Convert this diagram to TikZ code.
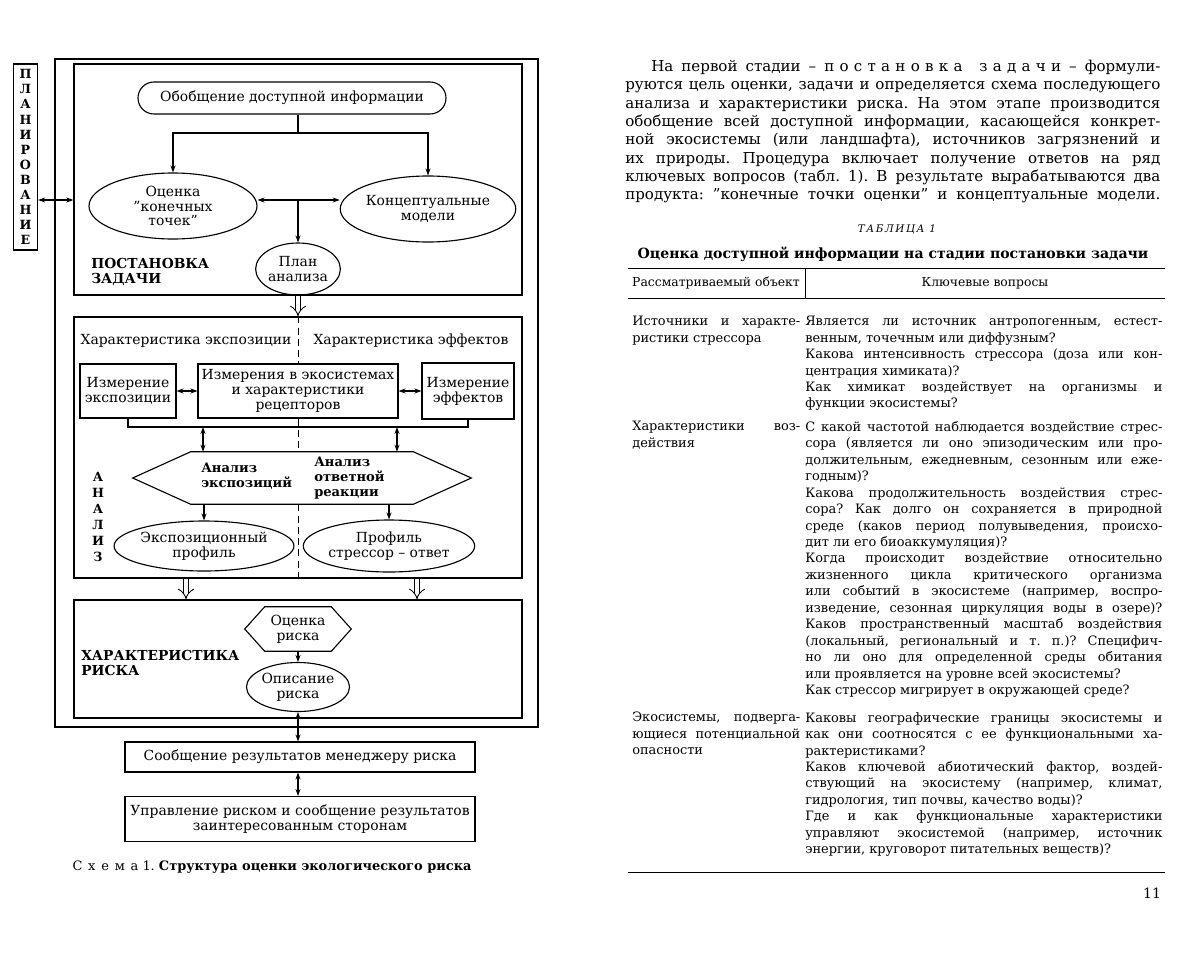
\documentclass[tikz,border=0pt]{standalone}
\usepackage{fontspec}
\setmainfont{DejaVu Serif}
\usetikzlibrary{arrows.meta,positioning,shapes.geometric,shapes.misc}
\frenchspacing

\def\pxl{0.025cm}
\newcommand\diafont{\fontsize{9.9}{10.6}\selectfont}
\newcommand\parafont{\fontsize{10.7}{13}\selectfont}
\newcommand\tabfont{\fontsize{9.2}{11.7}\selectfont}
\newcommand\headfont{\fontsize{8.8}{10}\selectfont}
\newlength\pw \setlength\pw{13.375cm}
\newlength\lw \setlength\lw{4.2cm}
\newlength\rw \setlength\rw{8.925cm}
\newcommand\jp[1]{\makebox[\pw][s]{#1}}
\newcommand\jl[1]{\makebox[\lw][s]{#1}}
\newcommand\jr[1]{\makebox[\rw][s]{#1}}
\newcommand\spaced[2][35]{{\addfontfeatures{LetterSpace=#1}#2}}

\tikzset{
  sz/.style 2 args={minimum width=#1*\pxl, minimum height=#2*\pxl},
  zone/.style={draw, line width=0.9pt, inner sep=0pt},
  bx/.style={draw, line width=0.8pt, font=\diafont, align=center, inner sep=1pt},
  ov/.style={ellipse, draw, line width=0.8pt, font=\diafont, align=center, inner sep=0pt},
  pill/.style={rounded rectangle, draw, line width=0.8pt, font=\diafont, inner sep=0pt},
  txt/.style={font=\diafont, inner sep=0pt, align=center},
  lbl/.style={font=\fontsize{9.8}{10.8}\selectfont\bfseries, align=left, anchor=west, inner sep=0pt},
  hlbl/.style={font=\fontsize{9.3}{10.4}\selectfont\bfseries, align=left, anchor=west, inner sep=0pt},
  vlbl/.style={font=\fontsize{9}{11.4}\selectfont\bfseries, align=center, inner sep=0pt},
  ln/.style={line width=0.8pt},
  ar/.style={line width=0.8pt, -{Stealth[length=5pt,width=3.6pt]}},
  dar/.style={line width=0.8pt, {Stealth[length=5pt,width=3.6pt]}-{Stealth[length=5pt,width=3.6pt]}},
  hol/.style={double, double distance=3.5pt, line width=0.6pt, -{Implies}},
  dl/.style={line width=0.7pt, dash pattern=on 5pt off 3pt},
  rl/.style={line width=0.6pt},
  para/.style={font=\parafont, align=left, anchor=north west, inner sep=0pt},
  cell/.style={font=\tabfont, align=left, anchor=north west, inner sep=0pt},
}

\begin{document}
\begin{tikzpicture}[x=0.025cm, y=-0.025cm]
\useasboundingbox (0,0) rectangle (1200,960);

% ---- left: scheme
\draw[zone] (55,59) rectangle (538,727);
\node[zone, sz={24}{186}, font=\fontsize{9}{10.7}\selectfont\bfseries, align=center] (plan) at (25.5,157)
  {П\\Л\\А\\Н\\И\\Р\\О\\В\\А\\Н\\И\\Е};

\node[zone, sz={448}{231}] (post) at (298,179.5) {};
\node[zone, sz={448}{261}] (ana) at (298,447.5) {};
\node[zone, sz={448}{118}] (risk) at (298,659) {};

% problem formulation
\node[pill, sz={308}{32}] (obob) at (292,98) {Обобщение доступной информации};
\node[ov, sz={168}{66}] (kt) at (173,206) {Оценка\\"конечных\\точек"};
\node[ov, sz={170}{66}] (cm) at (428,209) {Концептуальные\\модели};
\node[ov, sz={74}{52}] (pa) at (298,269) {План\\анализа};
\node[lbl] (postl) at (91,272) {ПОСТАНОВКА\\ЗАДАЧИ};
\coordinate (split) at (298,133);
\coordinate (mid) at (0,200);
\draw[ln] (obob.south -| split) -- (split);
\draw[ar] (split) -| (kt);
\draw[ar] (split) -| (cm);
\draw[dar] (kt.east |- mid) -- (cm.west |- mid);
\draw[ar] (mid -| pa) -- (pa);
\draw[dar] (plan.east |- mid) -- (post.west |- mid);
\draw[hol] (post.south) -- (ana.north);

% analysis
\node[txt] (hexp) at (186,341) {Характеристика экспозиции};
\node[txt] (heff) at (411,341) {Характеристика эффектов};
\node[bx, sz={96}{54}] (me) at (128,391) {Измерение\\экспозиции};
\node[bx, sz={200}{54}] (cen) at (298,391) {Измерения в экосистемах\\и характеристики\\рецепторов};
\node[bx, sz={92}{56}] (mf) at (468,391) {Измерение\\эффектов};
\draw[dar] (me) -- (cen);
\draw[dar] (cen) -- (mf);
\coordinate (brk) at (0,427);
\draw[ln] (me.south) |- (brk -| mf.south) -- (mf.south);
\node[sz={338}{52}, inner sep=0pt] (hex) at (302,478) {};
\draw[ln] (hex.west) -- ([xshift=58*\pxl]hex.north west) -- ([xshift=-58*\pxl]hex.north east)
  -- (hex.east) -- ([xshift=-58*\pxl]hex.south east) -- ([xshift=58*\pxl]hex.south west) -- cycle;
\coordinate (la) at (203,0);
\coordinate (ra) at (397,0);
\draw[dar] (brk -| la) -- (hex.north -| la);
\draw[dar] (brk -| ra) -- (hex.north -| ra);
\node[hlbl] (ae) at (201,476) {Анализ\\экспозиций};
\node[hlbl] (ao) at (314,478) {Анализ\\ответной\\реакции};
\node[ov, sz={146}{50}] (ep) at (204,546) {Экспозиционный\\профиль};
\node[ov, sz={146}{52}] (pr) at (389,546) {Профиль\\стрессор -- ответ};
\draw[ar] (hex.south -| ep) -- (ep);
\draw[ar] (hex.south -| pr) -- (pr);
\node[vlbl] (anl) at (98,517) {А\\Н\\А\\Л\\И\\З};
\draw[dl] (ana.north) -- (cen.north);
\draw[dl] (cen.south) -- (hex.north -| cen);
\draw[dl] (hex.south -| cen) -- (ana.south);
\coordinate (h1) at (186,0);
\coordinate (h2) at (417,0);
\draw[hol] (ana.south -| h1) -- (risk.north -| h1);
\draw[hol] (ana.south -| h2) -- (risk.north -| h2);

% risk characterisation
\node[txt, sz={106}{44}] (or) at (298,629) {Оценка\\риска};
\draw[ln] (or.west) -- ([xshift=20*\pxl]or.north west) -- ([xshift=-20*\pxl]or.north east)
  -- (or.east) -- ([xshift=-20*\pxl]or.south east) -- ([xshift=20*\pxl]or.south west) -- cycle;
\node[ov, sz={102}{49}] (opr) at (298,687) {Описание\\риска};
\draw[ar] (or.south) -- (opr);
\node[lbl] (rl) at (81,663) {ХАРАКТЕРИСТИКА\\РИСКА};

\node[bx, sz={350}{30}] (soob) at (300,757) {Сообщение результатов менеджеру риска};
\node[bx, sz={350}{45}] (upr) at (300,819) {Управление риском и сообщение результатов\\заинтересованным сторонам};
\draw[dar] (opr.south) -- (soob.north -| opr);
\draw[dar] (soob.south -| opr) -- (upr.north -| opr);
\node[font=\fontsize{9.2}{11}\selectfont, inner sep=0pt] (cap) at (272,867)
  {\spaced[45]{Схема} 1. \textbf{Структура оценки экологического риска}};

% ---- right: text and table
\node[para] (txt) at (625,60) {%
\jp{\hspace*{0.65cm}На первой стадии -- \spaced{постановка задачи} -- формули-}\\
\jp{руются цель оценки, задачи и определяется схема последующего}\\
\jp{анализа и характеристики риска. На этом этапе производится}\\
\jp{обобщение всей доступной информации, касающейся конкрет-}\\
\jp{ной экосистемы (или ландшафта), источников загрязнений и}\\
\jp{их природы. Процедура включает получение ответов на ряд}\\
\jp{ключевых вопросов (табл. 1). В результате вырабатываются два}\\
\jp{продукта: "конечные точки оценки" и концептуальные модели.}};

\node[font=\fontsize{7.4}{9}\selectfont\itshape, inner sep=0pt] (tno) at (897,229) {\spaced[15]{ТАБЛИЦА 1}};
\node[font=\fontsize{10}{11}\selectfont\bfseries, inner sep=0pt] (ttl) at (893,254)
  {Оценка доступной информации на стадии постановки задачи};

\coordinate (tl) at (628,268);
\coordinate (tr) at (1165,268);
\coordinate (hb) at (0,298);
\coordinate (sep) at (805,0);
\coordinate (bt) at (0,872);
\draw[rl] (tl) -- (tr);
\draw[rl] (tl |- hb) -- (tr |- hb);
\draw[rl] (sep |- tl) -- (sep |- hb);
\draw[rl] (tl |- bt) -- (tr |- bt);
\node[font=\headfont, inner sep=0pt] (hobj) at (716,283) {Рассматриваемый объект};
\node[font=\headfont, inner sep=0pt] (hq) at (985,283) {Ключевые вопросы};

\node[cell] (r1l) at (632,316) {\jl{Источники и характе-}\\ристики стрессора};
\node[cell] (r1r) at (805,316) {%
\jr{Является ли источник антропогенным, естест-}\\
венным, точечным или диффузным?\\
\jr{Какова интенсивность стрессора (доза или кон-}\\
центрация химиката)?\\
\jr{Как химикат воздействует на организмы и}\\
функции экосистемы?};

\node[cell] (r2l) at (632,421) {\jl{Характеристики воз-}\\действия};
\node[cell] (r2r) at (805,421) {%
\jr{С какой частотой наблюдается воздействие стрес-}\\
\jr{сора (является ли оно эпизодическим или про-}\\
\jr{должительным, ежедневным, сезонным или еже-}\\
годным)?\\
\jr{Какова продолжительность воздействия стрес-}\\
\jr{сора? Как долго он сохраняется в природной}\\
\jr{среде (каков период полувыведения, происхо-}\\
дит ли его биоаккумуляция)?\\
\jr{Когда происходит воздействие относительно}\\
\jr{жизненного цикла критического организма}\\
\jr{или событий в экосистеме (например, воспро-}\\
\jr{изведение, сезонная циркуляция воды в озере)?}\\
\jr{Каков пространственный масштаб воздействия}\\
\jr{(локальный, региональный и т. п.)? Специфич-}\\
\jr{но ли оно для определенной среды обитания}\\
или проявляется на уровне всей экосистемы?\\
Как стрессор мигрирует в окружающей среде?};

\node[cell] (r3l) at (632,712) {\jl{Экосистемы, подверга-}\\\jl{ющиеся потенциальной}\\опасности};
\node[cell] (r3r) at (805,712) {%
\jr{Каковы географические границы экосистемы и}\\
\jr{как они соотносятся с ее функциональными ха-}\\
рактеристиками?\\
\jr{Каков ключевой абиотический фактор, воздей-}\\
\jr{ствующий на экосистему (например, климат,}\\
гидрология, тип почвы, качество воды)?\\
\jr{Где и как функциональные характеристики}\\
\jr{управляют экосистемой (например, источник}\\
энергии, круговорот питательных веществ)?};

\node[font=\fontsize{10}{12}\selectfont, inner sep=0pt] (pg) at (1152,893) {11};
\end{tikzpicture}
\end{document}
